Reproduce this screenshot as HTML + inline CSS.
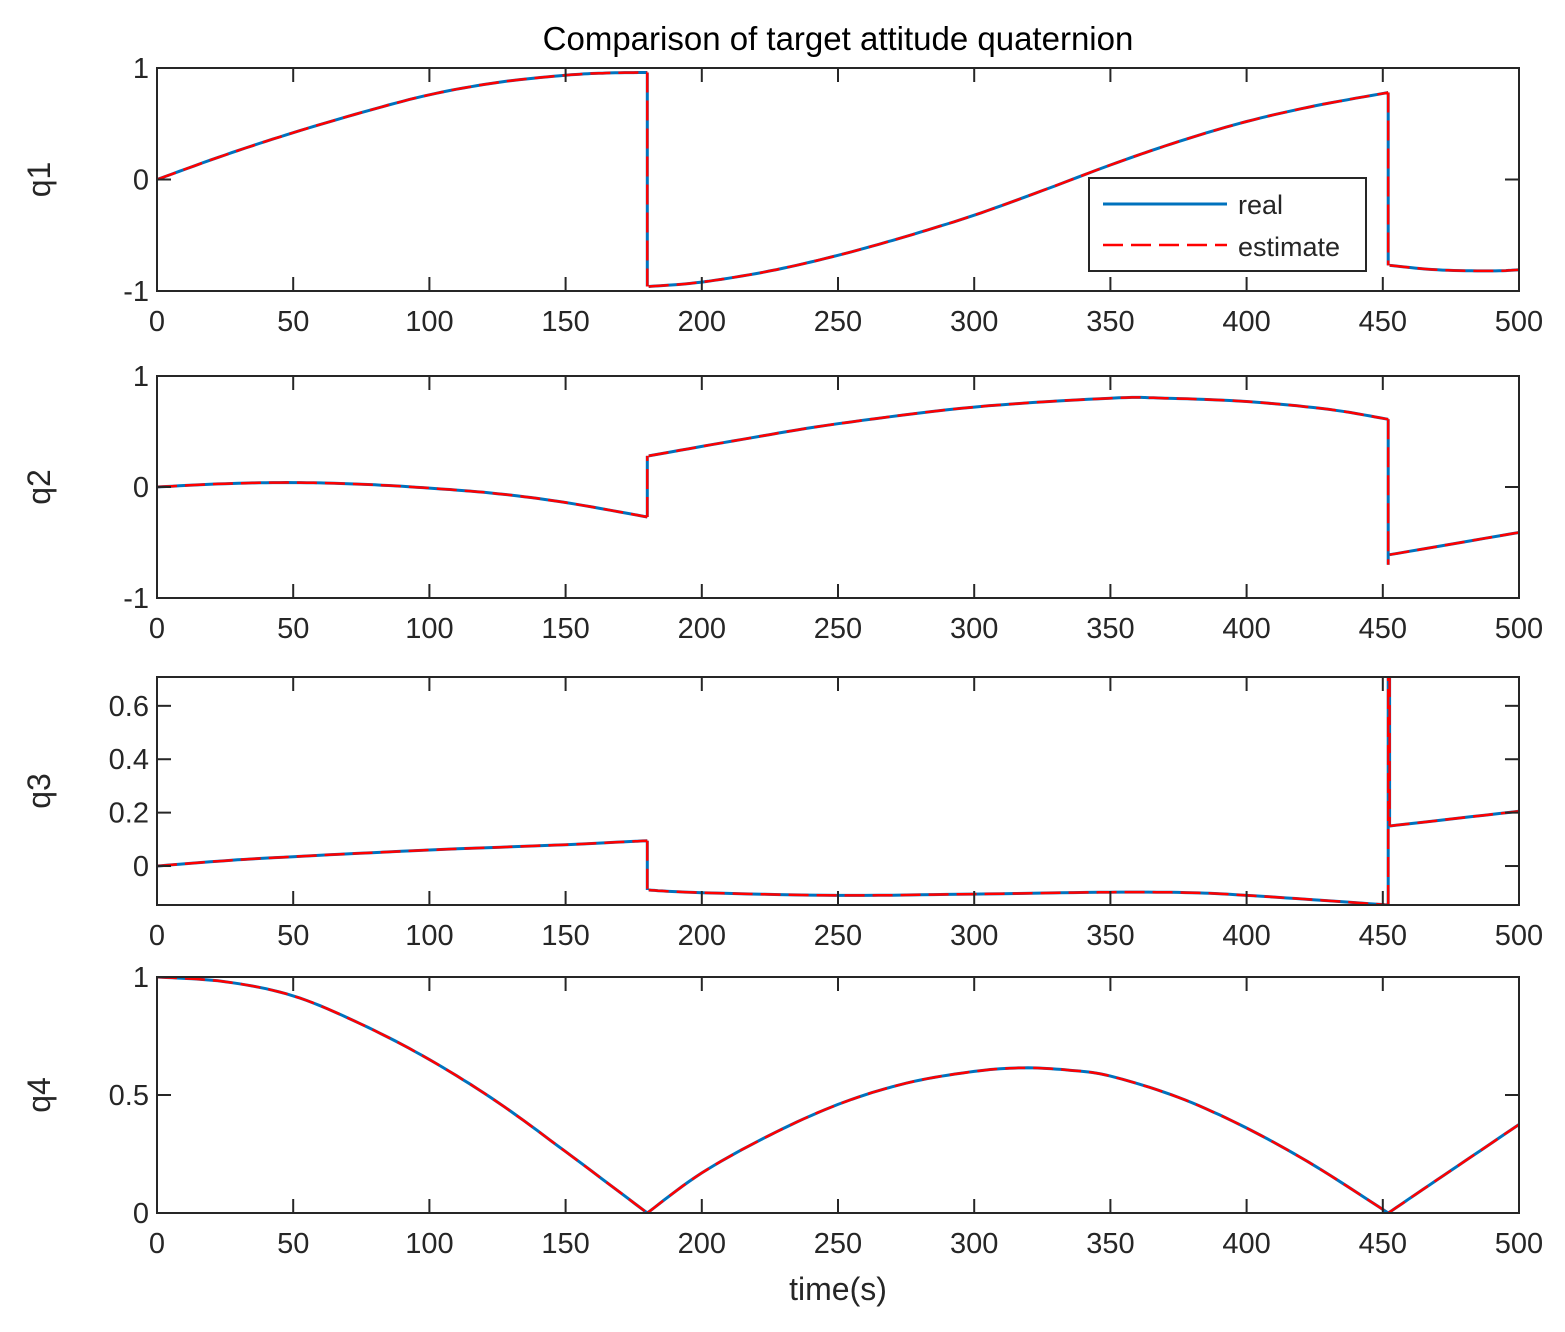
<!DOCTYPE html>
<html><head><meta charset="utf-8"><style>
html,body{margin:0;padding:0;background:#fff}
svg text{font-family:"Liberation Sans",Arial,sans-serif;fill:#262626}
</style></head><body>
<svg id="s" width="1565" height="1327" xmlns="http://www.w3.org/2000/svg">
<rect width="1565" height="1327" fill="#fff"/>
<text x="838" y="50" font-size="33" text-anchor="middle" style="fill:#000">Comparison of target attitude quaternion</text>
<text x="838" y="1300" font-size="32" text-anchor="middle">time(s)</text>
<g id="g"></g>
</svg>
<script>
var NS="http://www.w3.org/2000/svg",g=document.getElementById('g');
function el(t,a,txt){var e=document.createElementNS(NS,t);for(var k in a)e.setAttribute(k,a[k]);if(txt!==undefined)e.textContent=txt;g.appendChild(e);return e;}
var X0=157,X1=1519;function px(t){return X0+(X1-X0)*t/500;}
var axes=[
 {top:68,bot:291,ymin:-1,ymax:1,ticks:[[-1,"-1"],[0,"0"],[1,"1"]],lab:"q1",
  segs:[[[0,0],[25,0.22],[50,0.42],[75,0.6],[100,0.76],[125,0.87],[150,0.935],[165,0.955],[180,0.96]],
        [[180.5,-0.96],[200,-0.92],[225,-0.82],[250,-0.68],[275,-0.51],[300,-0.32],[325,-0.1],[350,0.13],[375,0.34],[400,0.52],[425,0.66],[452,0.78]],
        [[452.5,-0.77],[470,-0.81],[490,-0.82],[500,-0.81]]],jumps:[[180,0.96,-0.96],[452,0.78,-0.77]]},
 {top:376,bot:598,ymin:-1,ymax:1,ticks:[[-1,"-1"],[0,"0"],[1,"1"]],lab:"q2",
  segs:[[[0,0],[25,0.03],[50,0.04],[75,0.025],[100,-0.01],[125,-0.06],[150,-0.14],[180,-0.27]],
        [[180.5,0.28],[215,0.43],[250,0.57],[300,0.72],[350,0.8],[370,0.8],[400,0.77],[430,0.7],[452,0.61]],
        [[452.5,-0.61],[500,-0.41]]],jumps:[[180,-0.27,0.28],[452,0.61,-0.7]]},
 {top:677,bot:905,ymin:-0.146,ymax:0.708,ticks:[[0,"0"],[0.2,"0.2"],[0.4,"0.4"],[0.6,"0.6"]],lab:"q3",
  segs:[[[0,0],[25,0.02],[50,0.035],[100,0.06],[150,0.08],[180,0.095]],
        [[180.5,-0.09],[200,-0.1],[250,-0.11],[300,-0.105],[350,-0.098],[380,-0.1],[400,-0.11],[430,-0.13],[452,-0.146]],
        [[452.5,0.15],[500,0.205]]],jumps:[[452,-0.146,0.708],[452.5,0.708,0.15],[180,0.095,-0.09]]},
 {top:977,bot:1213,ymin:0,ymax:1,ticks:[[0,"0"],[0.5,"0.5"],[1,"1"]],lab:"q4",
  segs:[[[0,1],[25,0.98],[50,0.92],[75,0.8],[100,0.65],[125,0.47],[150,0.26],[180,0]],
        [[180,0],[200,0.17],[225,0.33],[250,0.46],[275,0.55],[300,0.6],[318,0.615],[335,0.605],[350,0.58],[375,0.49],[400,0.36],[425,0.2],[452,0]],
        [[452,0],[475,0.18],[500,0.375]]],jumps:[]}
];
function cr(pts){var out=[];for(var i=0;i<pts.length-1;i++){var p0=pts[Math.max(0,i-1)],p1=pts[i],p2=pts[i+1],p3=pts[Math.min(pts.length-1,i+2)];
 for(var k=0;k<10;k++){var t=k/10,t2=t*t,t3=t2*t;function f(a,b,c,d){return 0.5*((2*b)+(-a+c)*t+(2*a-5*b+4*c-d)*t2+(-a+3*b-3*c+d)*t3);}
 out.push([f(p0[0],p1[0],p2[0],p3[0]),f(p0[1],p1[1],p2[1],p3[1])]);}}out.push(pts[pts.length-1]);return out;}
axes.forEach(function(a){
 function py(v){return a.bot-(a.bot-a.top)*(v-a.ymin)/(a.ymax-a.ymin);}
 var d="";
 a.segs.forEach(function(s){var p=cr(s);d+="M"+p.map(function(q){return px(q[0]).toFixed(1)+","+py(q[1]).toFixed(1)}).join("L");});
 a.jumps.forEach(function(j){d+="M"+px(j[0]).toFixed(1)+","+py(j[1]).toFixed(1)+"L"+px(j[0]).toFixed(1)+","+py(j[2]).toFixed(1);});
 var cp=el('clipPath',{id:'c'+a.lab});var r=document.createElementNS(NS,'rect');r.setAttribute('x',X0);r.setAttribute('y',a.top);r.setAttribute('width',X1-X0);r.setAttribute('height',a.bot-a.top);cp.appendChild(r);
 el('path',{d:d,fill:'none',stroke:'#0072BD','stroke-width':3,'clip-path':'url(#c'+a.lab+')'});
 el('path',{d:d,fill:'none',stroke:'#FF0000','stroke-width':2.5,'stroke-dasharray':'20,8','clip-path':'url(#c'+a.lab+')'});
 el('rect',{x:X0,y:a.top,width:X1-X0,height:a.bot-a.top,fill:'none',stroke:'#262626','stroke-width':2});
 for(var t=0;t<=500;t+=50){var x=px(t);
  el('line',{x1:x,y1:a.bot,x2:x,y2:a.bot-14,stroke:'#262626','stroke-width':2});
  el('line',{x1:x,y1:a.top,x2:x,y2:a.top+14,stroke:'#262626','stroke-width':2});
  el('text',{x:x,y:a.bot+40,'font-size':29,'text-anchor':'middle'},String(t));}
 a.ticks.forEach(function(tk){var y=py(tk[0]);
  el('line',{x1:X0,y1:y,x2:X0+14,y2:y,stroke:'#262626','stroke-width':2});
  el('line',{x1:X1,y1:y,x2:X1-14,y2:y,stroke:'#262626','stroke-width':2});
  el('text',{x:X0-8,y:y+10,'font-size':29,'text-anchor':'end'},tk[1]);});
 var my=(a.top+a.bot)/2;
 el('text',{x:0,y:0,'font-size':32,'text-anchor':'middle',transform:'translate(50,'+my+') rotate(-90)'},a.lab);
});
el('rect',{x:1089,y:178,width:277,height:93,fill:'#fff',stroke:'#262626','stroke-width':2});
el('line',{x1:1103,y1:204,x2:1227,y2:204,stroke:'#0072BD','stroke-width':3});
el('line',{x1:1103,y1:245,x2:1227,y2:245,stroke:'#FF0000','stroke-width':2.5,'stroke-dasharray':'20,8'});
el('text',{x:1238,y:214,'font-size':27},'real');
el('text',{x:1238,y:256,'font-size':27},'estimate');
</script>
</body></html>
